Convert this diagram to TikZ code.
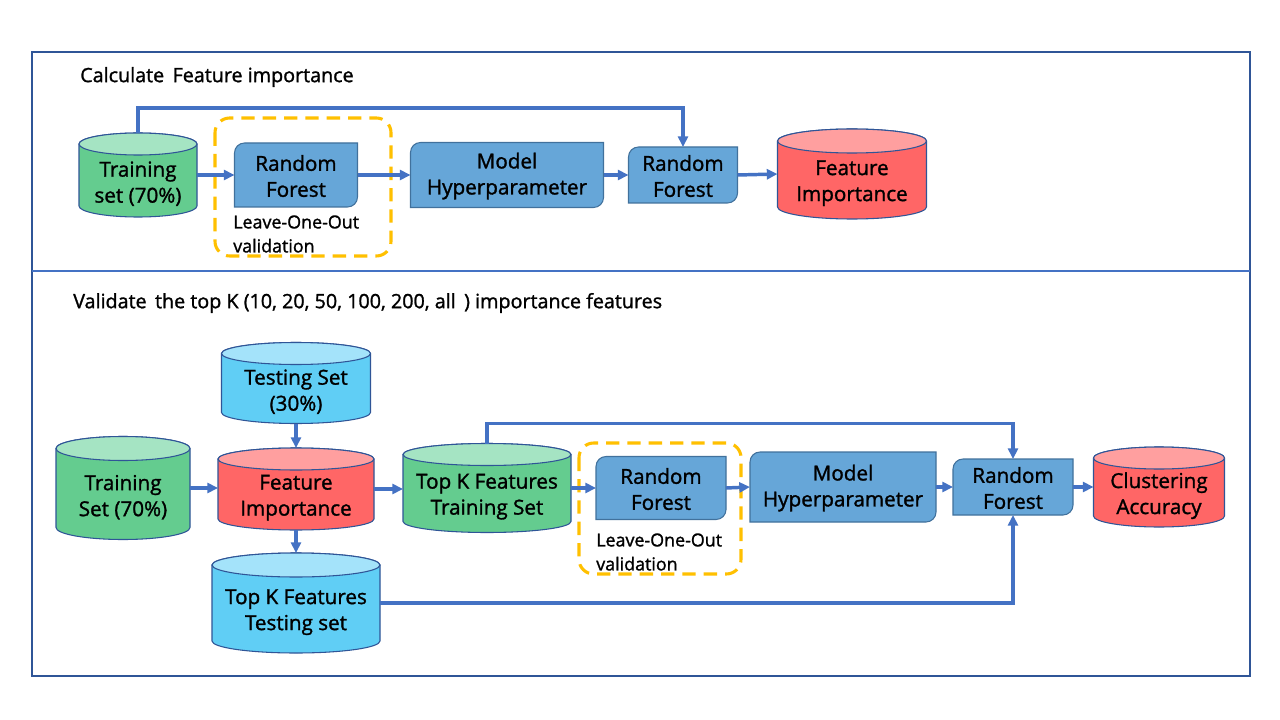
\documentclass[tikz,border=0pt]{standalone}
\usepackage{fontspec}
\setmainfont{Open Sans}
\newfontfamily\medfont{Open Sans}[FakeBold=1.3]
\usetikzlibrary{arrows.meta,calc}
\definecolor{grnbody}{HTML}{64CC8F}
\definecolor{grntop}{HTML}{A5E4C3}
\definecolor{redbody}{HTML}{FF6666}
\definecolor{redtop}{HTML}{FF9F9F}
\definecolor{cyanbody}{HTML}{60CEF5}
\definecolor{cyantop}{HTML}{A4E3FA}
\definecolor{boxfill}{HTML}{66A6D8}
\definecolor{boxedge}{HTML}{41719C}
\definecolor{cyledge}{HTML}{2F5597}
\definecolor{arrblue}{HTML}{4472C4}
\definecolor{dashgold}{HTML}{FFC000}
\definecolor{framecol}{HTML}{2F5597}
\tikzset{
  cylline/.style={draw=cyledge, line width=0.8pt},
  boxline/.style={draw=boxedge, fill=boxfill, line width=0.8pt},
  txt/.style={inner sep=0pt, align=center, font=\medfont\fontsize{15.5}{19.5}\selectfont, text=black},
  small/.style={inner sep=0pt, align=left, anchor=west, font=\medfont\fontsize{13.4}{18}\selectfont, text=black},
  title/.style={inner sep=0pt, anchor=west, font=\medfont\fontsize{14.8}{16}\selectfont, text=black},
  arr/.style={draw=arrblue, line width=2.6pt, -{Triangle[length=8pt,width=7.5pt]}},
  dashbox/.style={draw=dashgold, line width=2.3pt, dash pattern=on 10pt off 6pt, rounded corners=11pt},
  frame/.style={draw=framecol, line width=1pt},
}
% #1 name, #2 centre, #3 width(px), #4 height(px), #5 ellipse half-height(px), #6 body, #7 top, #8 text
\newcommand\cyl[8]{%
  \node[minimum width=#3*0.75pt, minimum height=#4*0.75pt, inner sep=0pt, outer sep=0pt] (#1) at (#2) {};
  \path[cylline, fill=#6] ([yshift=-#5*0.75pt]#1.north west) -- ([yshift=#5*0.75pt]#1.south west)
     arc[start angle=180, end angle=360, x radius=#3*0.375pt, y radius=#5*0.75pt]
     -- ([yshift=-#5*0.75pt]#1.north east)
     arc[start angle=0, end angle=180, x radius=#3*0.375pt, y radius=#5*0.75pt] -- cycle;
  \path[cylline, fill=#7] ([yshift=-#5*0.75pt]#1.north) ellipse[x radius=#3*0.375pt, y radius=#5*0.75pt];
  \node[txt] (#1-t) at ([yshift=-#5*0.375pt-2.4pt]#1.center) {#8};
}
% #1 name, #2 centre, #3 width(px), #4 height(px), #5 text
\newcommand\rbox[5]{%
  \node[minimum width=#3*0.75pt, minimum height=#4*0.75pt, inner sep=0pt, outer sep=0pt] (#1) at (#2) {};
  \path[boxline] (#1.south west) -- ([yshift=-7.5pt]#1.north west)
     arc[start angle=180, end angle=90, radius=7.5pt] -- (#1.north east)
     -- ([yshift=7.5pt]#1.south east) arc[start angle=0, end angle=-90, radius=7.5pt] -- cycle;
  \node[txt] (#1-t) at ([yshift=-0.8pt]#1.center) {#5};
}
\begin{document}
\begin{tikzpicture}[x=0.75pt, y=-0.75pt]
\useasboundingbox[fill=white] (0,0) rectangle (1280,720);
% frame
\draw[frame] (32,52) rectangle (1250,676);
\draw[draw=arrblue, line width=0.9pt] (32,271) -- (1250,271);

% ---------- top panel ----------
\node[title] (t1) at (80,77) {Calculate\, Feature importance};
\draw[dashbox] (215,118) rectangle (391,256);
\cyl{trA}{138,175}{118}{84}{11}{grnbody}{grntop}{Training\\set (70\%)}
\rbox{rfA}{296,175}{123}{64}{Random\\Forest}
\node[small] (looA) at (233,234) {Leave-One-Out\\validation};
\rbox{mhA}{507,175}{193}{65}{Model\\Hyperparameter}
\rbox{rfB}{683,175}{109}{56}{Random\\Forest}
\cyl{fiA}{852,174}{149}{90}{12}{redbody}{redtop}{Feature\\Importance}

\draw[arr] (trA.east) -- (rfA.west);
\draw[arr] (rfA.east) -- (mhA.west);
\draw[arr] (mhA.east) -- (rfB.west);
\draw[arr] (rfB.east) -- (fiA.west);
\draw[arr] (trA.north) -- ++(0,-25) -| (rfB.north);

% ---------- bottom panel ----------
\node[title] (t2) at (73,303) {Validate\, the top K (10, 20, 50, 100, 200, all\, ) importance features};
\draw[dashbox] (579,443) rectangle (741,574);
\cyl{tsA}{296,383}{149}{81}{11}{cyanbody}{cyantop}{Testing Set\\(30\%)}
\cyl{trB}{123,488}{134}{103}{12}{grnbody}{grntop}{Training\\Set (70\%)}
\cyl{fiB}{296,489}{156}{82}{11}{redbody}{redtop}{Feature\\Importance}
\cyl{tkA}{487,488}{168}{89}{11}{grnbody}{grntop}{Top K Features\\Training Set}
\cyl{tkB}{296,603}{168}{100}{12}{cyanbody}{cyantop}{Top K Features\\Testing set}
\rbox{rfC}{661,488}{130}{63}{Random\\Forest}
\node[small] (looB) at (596,552) {Leave-One-Out\\validation};
\rbox{mhB}{843,487}{186}{70}{Model\\Hyperparameter}
\rbox{rfD}{1013,487}{120}{56}{Random\\Forest}
\cyl{caB}{1159,487}{131}{80}{11}{redbody}{redtop}{Clustering\\Accuracy}

\draw[arr] (trB.east) -- (trB.east -| fiB.west);
\draw[arr] (tsA.south) -- (fiB.north);
\draw[arr] (fiB.south) -- (tkB.north);
\draw[arr] (fiB.east) -- (fiB.east -| tkA.west);
\draw[arr] (tkA.east) -- (tkA.east -| rfC.west);
\draw[arr] (rfC.east) -- (mhB.west);
\draw[arr] (mhB.east) -- (rfD.west);
\draw[arr] (rfD.east) -- (caB.west);
\draw[arr] (tkA.north) -- ++(0,-20) -| (rfD.north);
\draw[arr] (tkB.east) -| (rfD.south);
\end{tikzpicture}
\end{document}
